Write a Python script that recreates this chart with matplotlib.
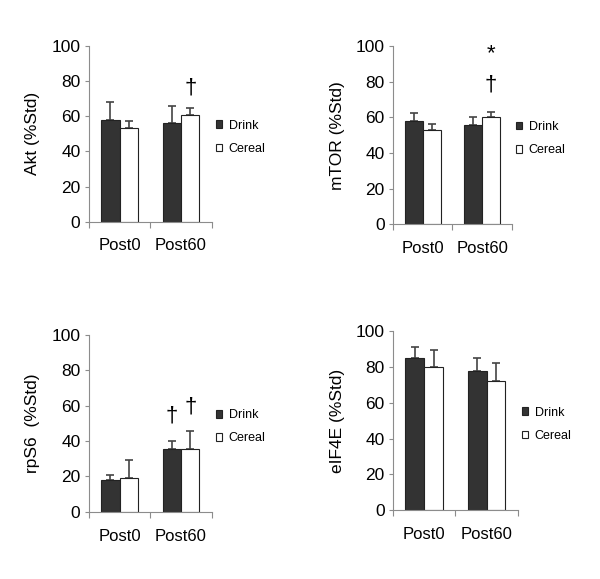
import matplotlib

matplotlib.use("Agg")

import matplotlib.pyplot as plt
import numpy as np
from matplotlib.patches import Patch

plt.rcParams["font.family"] = ["Liberation Sans", "DejaVu Sans"]

# values (% of standard)
categories = ["Post0", "Post60"]
series = ["Drink", "Cereal"]

akt_drink = [58, 56]
akt_cereal = [53, 60.5]
akt_drink_err = [10, 10]
akt_cereal_err = [4, 4]

mtor_drink = [58, 56]
mtor_cereal = [53, 60.5]
mtor_drink_err = [4.5, 4.5]
mtor_cereal_err = [3.5, 2.5]

rps6_drink = [18, 35.5]
rps6_cereal = [19, 35.5]
rps6_drink_err = [3, 4.5]
rps6_cereal_err = [10, 10]

eif4e_drink = [85, 78]
eif4e_cereal = [80, 72]
eif4e_drink_err = [6, 7]
eif4e_cereal_err = [9.5, 10]

# significance marks: (category index, series index, y value, symbol)
akt_marks = [(1, 1, 76, "\u2020")]
mtor_marks = [(1, 1, 78, "\u2020"), (1, 1, 96, "*")]
rps6_marks = [(1, 0, 54, "\u2020"), (1, 1, 59, "\u2020")]
eif4e_marks = []

panels = [
    ("Akt (%Std)", akt_drink, akt_cereal, akt_drink_err, akt_cereal_err, akt_marks,
     [0.148, 0.617, 0.205, 0.304]),
    ("mTOR (%Std)", mtor_drink, mtor_cereal, mtor_drink_err, mtor_cereal_err, mtor_marks,
     [0.655, 0.613, 0.198, 0.307]),
    ("rpS6  (%Std)", rps6_drink, rps6_cereal, rps6_drink_err, rps6_cereal_err, rps6_marks,
     [0.148, 0.116, 0.205, 0.306]),
    ("eIF4E (%Std)", eif4e_drink, eif4e_cereal, eif4e_drink_err, eif4e_cereal_err, eif4e_marks,
     [0.655, 0.119, 0.208, 0.309]),
]

DARK = "#333333"
AXIS = "#8c8c8c"
W = 0.3

fig = plt.figure(figsize=(6.0, 5.79), dpi=100)
for ylabel, drink, cereal, derr, cerr, marks, rect in panels:
    ax = fig.add_axes(rect)
    x = np.arange(len(categories)) + 0.5
    xs = [x - W / 2, x + W / 2]
    ax.bar(xs[0], drink, W, color=DARK, edgecolor="#222222", linewidth=0.8, zorder=2)
    ax.bar(xs[1], cereal, W, color="white", edgecolor="#222222", linewidth=0.8, zorder=2)
    for xx, vals, err in [(xs[0], drink, derr), (xs[1], cereal, cerr)]:
        ax.errorbar(xx, vals, yerr=[np.zeros(len(err)), err], fmt="none",
                    ecolor="#444444", elinewidth=1.2, capsize=3, capthick=1.2, zorder=1)
    for ci, si, yv, sym in marks:
        ax.text(xs[si][ci], yv, sym, ha="center", va="center",
                fontsize=16, color="black")
    ax.set_xlim(0, 2)
    ax.set_ylim(0, 100)
    ax.set_yticks(range(0, 101, 20))
    ax.set_xticks(x)
    ax.set_xticklabels(categories)
    ax.set_xticks([0, 1, 2], minor=True)
    ax.tick_params(axis="x", which="major", length=0, pad=12, labelsize=12)
    ax.tick_params(axis="x", which="minor", length=4, color=AXIS, width=0.8)
    ax.tick_params(axis="y", length=3, color=AXIS, width=0.8, labelsize=12.5, pad=3)
    for side in ["top", "right"]:
        ax.spines[side].set_visible(False)
    for side in ["left", "bottom"]:
        ax.spines[side].set_color(AXIS)
        ax.spines[side].set_linewidth(0.8)
    ax.set_ylabel(ylabel, fontsize=12.5, labelpad=8)
    handles = [Patch(facecolor=DARK, edgecolor="#222222", linewidth=0.8),
               Patch(facecolor="white", edgecolor="#222222", linewidth=0.8)]
    ax.legend(handles, series, loc="center left", bbox_to_anchor=(0.99, 0.48),
              frameon=False, fontsize=9, handlelength=0.55, handleheight=0.55,
              handletextpad=0.5, labelspacing=0.9, borderaxespad=0.0)

fig.savefig("out.png", dpi=100)
plt.close(fig)
